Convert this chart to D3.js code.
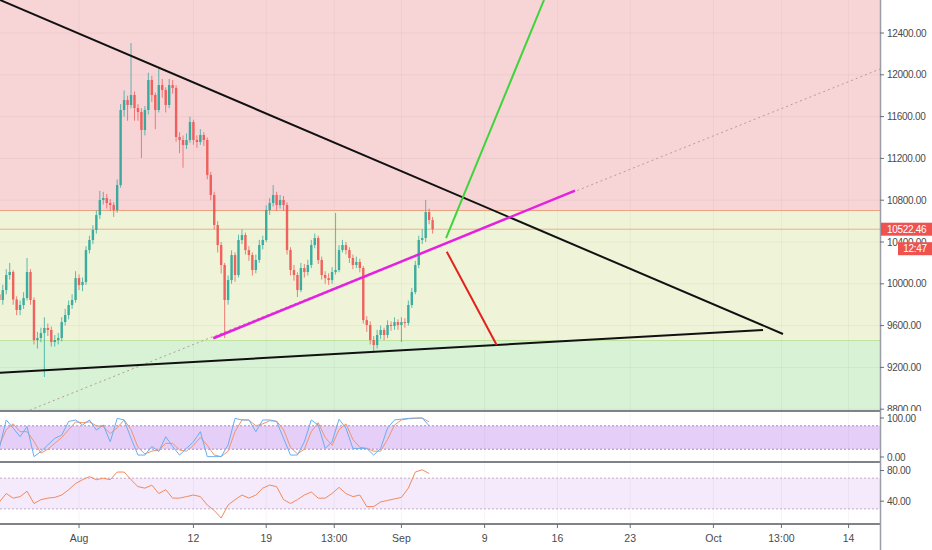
<!DOCTYPE html>
<html>
<head>
<meta charset="utf-8">
<script src="https://cdn.jsdelivr.net/npm/d3@7"></script>
<style>
  html, body { margin: 0; padding: 0; background: #fff; }
  svg { display: block; font-family: 'Liberation Sans', Arial, sans-serif; }
</style>
</head>
<body>
<svg id="chart" width="932" height="550"></svg>
<script>
// 8h candles, 24 Jul - 4 Sep 2019
const candleStart = '2019-07-24T08:00:00Z';
const candleHours = 8;
const firstOpen = 9900;
const closes = [
  9845, 9940, 10084, 10113, 9850, 9749, 9797, 9864, 10113, 9845,
  9462, 9481, 9529, 9577, 9558, 9443, 9462, 9481, 9634, 9701,
  9797, 9845, 10055, 9988, 10017, 10323, 10419, 10515, 10658, 10802,
  10821, 10773, 10754, 10706, 10945, 11663, 11759, 11711, 11807, 11682,
  11644, 11472, 11663, 11950, 11807, 11663, 11902, 11855, 11711, 11902,
  11874, 11405, 11376, 11328, 11376, 11548, 11376, 11357, 11424, 11376,
  11041, 10850, 10563, 10371, 10180, 9845, 10036, 10275, 10084, 10419,
  10467, 10323, 10275, 10132, 10228, 10371, 10419, 10706, 10773, 10850,
  10754, 10802, 10754, 10323, 10132, 10084, 9940, 10151, 10113, 10180,
  10371, 10438, 10228, 10084, 10055, 10036, 10113, 10132, 10323, 10371,
  10323, 10247, 10180, 10209, 10151, 9653, 9606, 9462, 9414, 9510,
  9558, 9510, 9606, 9596, 9634, 9606, 9634, 9625, 9797, 9921,
  10180, 10419, 10438, 10687, 10610, 10522.46
];
const highs = [
  9960, 9990, 10140, 10200, 10130, 9880, 9840, 9920, 10247, 10140,
  9870, 9540, 9580, 9680, 9620, 9590, 9510, 9530, 9680, 9760,
  9840, 9900, 10120, 10090, 10060, 10360, 10460, 10560, 10700, 10890,
  10880, 10860, 10810, 10780, 11000, 11720, 11850, 11800, 12304, 11840,
  11720, 11680, 11700, 12020, 11990, 11830, 12060, 11960, 11880, 11960,
  11950, 11900, 11450, 11420, 11440, 11600, 11570, 11420, 11480, 11450,
  11400, 11070, 10880, 10600, 10400, 10200, 10080, 10320, 10300, 10470,
  10520, 10490, 10360, 10300, 10280, 10420, 10460, 10750, 10820, 10945,
  10880, 10850, 10840, 10780, 10350, 10180, 10110, 10200, 10190, 10230,
  10420, 10480, 10460, 10260, 10120, 10100, 10160, 10678, 10370, 10420,
  10400, 10350, 10280, 10260, 10240, 10170, 9690, 9640, 9500, 9560,
  9600, 9580, 9650, 9640, 9680, 9660, 9680, 9670, 9840, 9960,
  10220, 10460, 10520, 10802, 10720, 10640
];
const lows = [
  9790, 9800, 9900, 10040, 9800, 9700, 9700, 9760, 9840, 9800,
  9420, 9380, 9440, 9108, 9500, 9400, 9400, 9420, 9450, 9600,
  9660, 9760, 9820, 9940, 9930, 9990, 10290, 10380, 10480, 10620,
  10760, 10720, 10700, 10640, 10680, 10920, 11600, 11560, 11680, 11560,
  11560, 11204, 11420, 11620, 11740, 11480, 11640, 11780, 11640, 11680,
  11820, 11360, 11250, 11110, 11290, 11350, 11330, 11300, 11330, 11320,
  11000, 10800, 10520, 10300, 10100, 9481, 9800, 10000, 10020, 10060,
  10380, 10280, 10220, 10080, 10100, 10200, 10330, 10400, 10660, 10740,
  10700, 10720, 10700, 10280, 10080, 10030, 9873, 9920, 10060, 10080,
  10150, 10340, 10190, 10040, 10000, 9990, 10000, 10090, 10110, 10300,
  10280, 10200, 10140, 10150, 10110, 9620, 9540, 9420, 9350, 9380,
  9470, 9460, 9480, 9550, 9560, 9560, 9443, 9580, 9600, 9770,
  9900, 10150, 10380, 10400, 10570, 10480
];

// indicators, read every 16h from the same start
const indicatorHours = 16;
const stochK = [
  22, 95, 74, 52, 78, 1, 14, 31, 48, 56, 91, 95, 82, 95, 69, 82, 39, 99, 95, 48,
  5, 5, 27, 14, 52, 27, 5, 22, 39, 65, 1, 1, 1, 31, 99, 95, 95, 65, 95, 95,
  91, 48, 5, 5, 39, 95, 82, 22, 39, 97, 74, 22, 22, 22, 5, 22, 74, 95, 97, 99,
  100, 100, 80
];
const stochD = [
  30, 70, 85, 65, 65, 40, 10, 20, 35, 50, 70, 90, 88, 90, 80, 78, 60, 75, 95, 70,
  25, 8, 15, 18, 35, 35, 18, 15, 30, 50, 30, 5, 1, 15, 65, 95, 95, 80, 85, 93,
  92, 70, 25, 8, 20, 65, 88, 50, 30, 70, 85, 45, 25, 22, 15, 15, 45, 82, 95, 98,
  99, 100, 90
];
const rsi = [
  39, 50, 44, 46, 53, 37, 42, 44, 45, 48, 55, 63, 68, 72, 68, 70, 68, 78, 78, 68,
  59, 57, 61, 50, 55, 44, 44, 46, 48, 46, 35, 28, 18, 35, 42, 48, 44, 48, 57, 61,
  59, 42, 37, 42, 48, 52, 44, 44, 50, 58, 50, 46, 48, 33, 33, 39, 41, 43, 45, 57,
  78, 81, 76
];

const priceTicks = [12400, 12000, 11600, 11200, 10800, 10400, 10000, 9600, 9200, 8800];
const stochTicks = [100, 0];
const rsiTicks = [80, 40];
const stochBands = [80, 20];
const rsiBands = [70, 30];
const zoneEdges = [10706, 9462];
const lastPrice = 10522.46;
const countdown = '12:47';

const tickDates = [
  '2019-08-01T00:00Z', '2019-08-12T00:00Z', '2019-08-19T00:00Z', '2019-08-25T13:00Z',
  '2019-09-01T00:00Z', '2019-09-09T00:00Z', '2019-09-16T00:00Z', '2019-09-23T00:00Z',
  '2019-10-01T00:00Z', '2019-10-07T13:00Z', '2019-10-14T00:00Z'
];
const tickLabels = ['Aug', '12', '19', '13:00', 'Sep', '9', '16', '23', 'Oct', '13:00', '14'];

// drawings: [date, price] end points
const resistance = [['2019-07-24T09:36Z', 12716], ['2019-10-07T16:36Z', 9520]];
const support = [['2019-07-24T09:36Z', 9149], ['2019-10-05T18:30Z', 9558]];
const risingLine = [['2019-08-13T21:50Z', 9479], ['2019-09-17T16:36Z', 10891]];
const risingRay = [['2019-07-26T19:26Z', 8773], ['2019-10-17T00:28Z', 12055]];
const bullPath = [['2019-09-05T07:00Z', 10438], ['2019-09-14T17:05Z', 12716]];
const bearPath = [['2019-09-05T08:40Z', 10307], ['2019-09-10T03:50Z', 9414]];

const timeDomain = ['2019-07-24T09:36Z', '2019-10-17T00:28Z'];

const svg = d3.select('#chart');
const plotW = 880;
const main = { top: 0, bottom: 411 };
const stochPane = { top: 411, bottom: 462 };
const rsiPane = { top: 462, bottom: 524 };

const x = d3.scaleUtc().domain(timeDomain.map((d) => new Date(d))).range([0, plotW]);
const y = d3.scaleLinear().domain([8800, 12400]).range([409.2, 33]);
const yStoch = d3.scaleLinear().domain([0, 100]).range([457, 418]);
const yRsi = d3.scaleLinear().domain([40, 80]).range([501.2, 470.5]);

const t0 = new Date(candleStart).getTime();
const candles = closes.map((c, i) => ({
  t: new Date(t0 + i * candleHours * 3600e3),
  o: i ? closes[i - 1] : firstOpen,
  c,
  h: highs[i],
  l: lows[i]
}));
const indTime = (i) => new Date(t0 + i * indicatorHours * 3600e3);

const defs = svg.append('defs');
[['clip-main', main], ['clip-stoch', stochPane], ['clip-rsi', rsiPane]].forEach(([id, p]) => {
  defs.append('clipPath').attr('id', id)
    .append('rect').attr('x', 0).attr('y', p.top).attr('width', plotW).attr('height', p.bottom - p.top);
});

// ---- main pane
const gMain = svg.append('g').attr('clip-path', 'url(#clip-main)');

const zoneColors = ['#f7d5d7', '#eff3d7', '#d7f2d5'];
const zoneBounds = [y.domain()[1] + 1000, ...zoneEdges, y.domain()[0] - 1000];
gMain.selectAll('.zone')
  .data(zoneColors)
  .join('rect')
  .attr('x', 0)
  .attr('width', plotW)
  .attr('y', (d, i) => y(zoneBounds[i]))
  .attr('height', (d, i) => y(zoneBounds[i + 1]) - y(zoneBounds[i]))
  .attr('fill', (d) => d);

gMain.selectAll('.hgrid')
  .data(priceTicks)
  .join('line')
  .attr('x1', 0).attr('x2', plotW)
  .attr('y1', (d) => y(d)).attr('y2', (d) => y(d))
  .attr('stroke', 'rgba(0,0,0,0.045)');

gMain.selectAll('.vgrid')
  .data(tickDates)
  .join('line')
  .attr('x1', (d) => x(new Date(d))).attr('x2', (d) => x(new Date(d)))
  .attr('y1', main.top).attr('y2', main.bottom)
  .attr('stroke', 'rgba(0,0,0,0.035)');

gMain.selectAll('.edge')
  .data(zoneEdges)
  .join('line')
  .attr('x1', 0).attr('x2', plotW)
  .attr('y1', (d) => y(d) + 0.5).attr('y2', (d) => y(d) + 0.5)
  .attr('stroke', (d, i) => (i === 0 ? '#eca283' : '#bfe3a0'));

gMain.append('line')
  .attr('x1', 0).attr('x2', plotW)
  .attr('y1', y(lastPrice)).attr('y2', y(lastPrice))
  .attr('stroke', '#eab093')
  .attr('stroke-width', 1);

const up = '#26a69a';
const down = '#ef5350';
const cg = gMain.append('g').attr('opacity', 0.9);
cg.selectAll('.wick')
  .data(candles)
  .join('line')
  .attr('x1', (d) => x(d.t)).attr('x2', (d) => x(d.t))
  .attr('y1', (d) => y(d.h)).attr('y2', (d) => y(d.l))
  .attr('stroke', (d) => (d.c >= d.o ? up : down))
  .attr('stroke-width', 0.8);
cg.selectAll('.body')
  .data(candles)
  .join('rect')
  .attr('x', (d) => x(d.t) - 1.2)
  .attr('width', 2.4)
  .attr('y', (d) => y(Math.max(d.o, d.c)))
  .attr('height', (d) => Math.max(1, Math.abs(y(d.o) - y(d.c))))
  .attr('fill', (d) => (d.c >= d.o ? up : down));

const seg = d3.line().x((d) => x(new Date(d[0]))).y((d) => y(d[1]));

gMain.append('path').attr('d', seg(risingRay))
  .attr('fill', 'none').attr('stroke', '#b89a9a').attr('stroke-width', 1)
  .attr('stroke-dasharray', '2,3');
gMain.append('path').attr('d', seg(resistance))
  .attr('fill', 'none').attr('stroke', '#111').attr('stroke-width', 2);
gMain.append('path').attr('d', seg(support))
  .attr('fill', 'none').attr('stroke', '#111').attr('stroke-width', 2);
gMain.append('path').attr('d', seg(risingLine))
  .attr('fill', 'none').attr('stroke', '#e620e0').attr('stroke-width', 2.5);
gMain.append('path').attr('d', seg(bullPath))
  .attr('fill', 'none').attr('stroke', '#3ed43a').attr('stroke-width', 2);
gMain.append('path').attr('d', seg(bearPath))
  .attr('fill', 'none').attr('stroke', '#e3221d').attr('stroke-width', 2);

// ---- stoch rsi pane
const gStoch = svg.append('g').attr('clip-path', 'url(#clip-stoch)');
gStoch.append('rect')
  .attr('x', 0).attr('width', plotW)
  .attr('y', yStoch(stochBands[0])).attr('height', yStoch(stochBands[1]) - yStoch(stochBands[0]))
  .attr('fill', '#e5cff8');
gStoch.selectAll('.vgrid')
  .data(tickDates)
  .join('line')
  .attr('x1', (d) => x(new Date(d))).attr('x2', (d) => x(new Date(d)))
  .attr('y1', stochPane.top).attr('y2', stochPane.bottom)
  .attr('stroke', 'rgba(0,0,0,0.035)');
gStoch.selectAll('.band')
  .data(stochBands)
  .join('line')
  .attr('x1', 0).attr('x2', plotW)
  .attr('y1', (d) => yStoch(d)).attr('y2', (d) => yStoch(d))
  .attr('stroke', '#a98bb8').attr('stroke-dasharray', '2,2');

const stochLine = d3.line().x((d, i) => x(indTime(i))).y((d) => yStoch(d));
gStoch.append('path').attr('d', stochLine(stochD))
  .attr('fill', 'none').attr('stroke', '#f0956a').attr('stroke-width', 1);
gStoch.append('path').attr('d', stochLine(stochK))
  .attr('fill', 'none').attr('stroke', '#6aaef0').attr('stroke-width', 1);

// ---- rsi pane
const gRsi = svg.append('g').attr('clip-path', 'url(#clip-rsi)');
gRsi.append('rect')
  .attr('x', 0).attr('width', plotW)
  .attr('y', yRsi(rsiBands[0])).attr('height', yRsi(rsiBands[1]) - yRsi(rsiBands[0]))
  .attr('fill', '#f4eafb');
gRsi.selectAll('.vgrid')
  .data(tickDates)
  .join('line')
  .attr('x1', (d) => x(new Date(d))).attr('x2', (d) => x(new Date(d)))
  .attr('y1', rsiPane.top).attr('y2', rsiPane.bottom)
  .attr('stroke', 'rgba(0,0,0,0.04)');
gRsi.selectAll('.band')
  .data(rsiBands)
  .join('line')
  .attr('x1', 0).attr('x2', plotW)
  .attr('y1', (d) => yRsi(d)).attr('y2', (d) => yRsi(d))
  .attr('stroke', '#c4aacc').attr('stroke-dasharray', '2,2');
gRsi.append('path')
  .attr('d', d3.line().x((d, i) => x(indTime(i))).y((d) => yRsi(d))(rsi))
  .attr('fill', 'none').attr('stroke', '#f3895a').attr('stroke-width', 1);

// ---- separators and axes
svg.selectAll('.sep')
  .data([main.bottom, stochPane.bottom, rsiPane.bottom])
  .join('line')
  .attr('x1', 0).attr('x2', plotW)
  .attr('y1', (d) => d).attr('y2', (d) => d)
  .attr('stroke', '#7f828a').attr('stroke-width', 2);
svg.append('line')
  .attr('x1', plotW + 0.5).attr('x2', plotW + 0.5)
  .attr('y1', 0).attr('y2', 550)
  .attr('stroke', '#9a9da5').attr('stroke-width', 1.5);

const fmt = d3.format('.2f');
const labelColor = '#4a4a4a';
const numSize = 10;
const numSpacing = -0.3;

const rightTicks = (g, ticks, scale) => {
  ticks.forEach((v) => {
    const yy = scale(v);
    g.append('line').attr('x1', plotW).attr('x2', plotW + 4).attr('y1', yy).attr('y2', yy)
      .attr('stroke', '#6b6e75');
    g.append('text').attr('x', plotW + 7).attr('y', yy).attr('dy', '0.35em')
      .attr('font-size', numSize).attr('letter-spacing', numSpacing)
      .attr('fill', labelColor).text(fmt(v));
  });
};
const axisG = svg.append('g');
defs.append('clipPath').attr('id', 'clip-price')
  .append('rect').attr('x', plotW).attr('y', 0).attr('width', 60).attr('height', main.bottom);
const priceAxisG = axisG.append('g').attr('clip-path', 'url(#clip-price)');
rightTicks(priceAxisG, priceTicks, y);
rightTicks(axisG, stochTicks, yStoch);
rightTicks(axisG, rsiTicks, yRsi);

// last price marker + countdown
const yl = y(lastPrice);
axisG.append('rect').attr('x', plotW + 1).attr('y', yl - 6.5).attr('width', 932 - plotW).attr('height', 13)
  .attr('fill', '#ef5350');
axisG.append('text').attr('x', plotW + 7).attr('y', yl).attr('dy', '0.35em')
  .attr('font-size', numSize).attr('letter-spacing', numSpacing)
  .attr('fill', '#fff').text(fmt(lastPrice));
axisG.append('rect').attr('x', 898).attr('y', yl + 13).attr('width', 34).attr('height', 13)
  .attr('fill', '#ef5350');
axisG.append('text').attr('x', 915).attr('y', yl + 19.5).attr('dy', '0.35em')
  .attr('text-anchor', 'middle').attr('font-size', numSize).attr('letter-spacing', numSpacing)
  .attr('fill', '#fff').text(countdown);

// time axis
tickDates.forEach((d, i) => {
  const xx = x(new Date(d));
  axisG.append('line').attr('x1', xx).attr('x2', xx).attr('y1', rsiPane.bottom).attr('y2', rsiPane.bottom + 4)
    .attr('stroke', '#6b6e75');
  axisG.append('text').attr('x', xx).attr('y', 538).attr('dy', '0.35em')
    .attr('text-anchor', 'middle').attr('font-size', 10.5).attr('fill', labelColor)
    .text(tickLabels[i]);
});
</script>
</body>
</html>
